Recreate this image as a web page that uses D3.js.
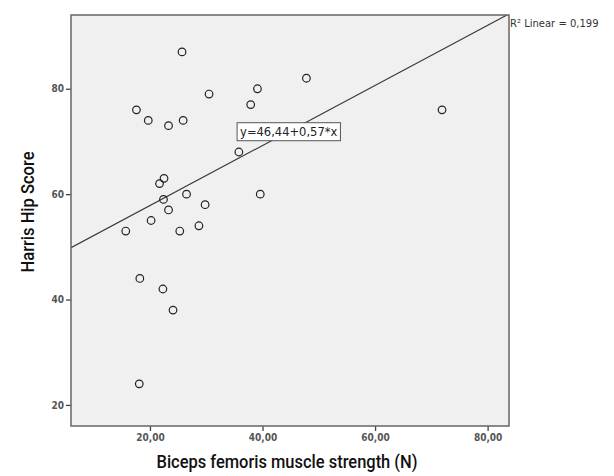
<!DOCTYPE html>
<html>
<head>
<meta charset="utf-8">
<script src="https://cdn.jsdelivr.net/npm/d3@7"></script>
<style>
  body { margin: 0; background: #fff; }
  svg { display: block; }
</style>
</head>
<body>
<svg id="chart" width="614" height="476"></svg>
<script>
// biceps femoris strength (N) vs Harris Hip Score
const strength = [25.7, 17.6, 19.7, 23.3, 25.9, 30.5, 37.9, 39.1, 47.8, 35.8, 22.5, 21.7, 26.5,
  39.6, 22.4, 29.8, 23.3, 20.2, 28.7, 71.9, 15.7, 25.3, 18.2, 22.3, 24.1, 18.1];
const harris = [87, 76, 74, 73, 74, 79, 77, 80, 82, 68, 63, 62, 60,
  60, 59, 58, 57, 55, 54, 76, 53, 53, 44, 42, 38, 24];
const xTicks = [20, 40, 60, 80];
const yTicks = [20, 40, 60, 80];
const fit = { a: 46.44, b: 0.57 };
const fitLabel = "y=46,44+0,57*x";
const r2Label = "R² Linear = 0,199";

const svg = d3.select("#chart");
const plotL = 71, plotT = 15, plotR = 509, plotB = 426;

const x = d3.scaleLinear().domain([5.97, 83.8]).range([plotL, plotR]);
const y = d3.scaleLinear().domain([16, 94]).range([plotB, plotT]);

const comma = d => d3.format(".2f")(d).replace(".", ",");

svg.append("rect")
  .attr("x", plotL).attr("y", plotT)
  .attr("width", plotR - plotL).attr("height", plotB - plotT)
  .attr("fill", "#f0f0f0");

svg.append("clipPath").attr("id", "plot")
  .append("rect")
  .attr("x", plotL).attr("y", plotT)
  .attr("width", plotR - plotL).attr("height", plotB - plotT);

// fit line
const x0 = x.domain()[0], x1 = x.domain()[1];
svg.append("line")
  .attr("clip-path", "url(#plot)")
  .attr("x1", x(x0)).attr("y1", y(fit.a + fit.b * x0))
  .attr("x2", x(x1)).attr("y2", y(fit.a + fit.b * x1))
  .attr("stroke", "#333")
  .attr("stroke-width", 1.1);

// points
svg.append("g")
  .selectAll("circle")
  .data(strength)
  .join("circle")
  .attr("cx", d => x(d))
  .attr("cy", (d, i) => y(harris[i]))
  .attr("r", 3.8)
  .attr("fill", "none")
  .attr("stroke", "#222")
  .attr("stroke-width", 1.2);

// axes
const xAxis = svg.append("g")
  .attr("transform", `translate(0,${plotB})`)
  .call(d3.axisBottom(x).tickValues(xTicks).tickFormat(comma).tickSize(5).tickPadding(3));
const yAxis = svg.append("g")
  .attr("transform", `translate(${plotL},0)`)
  .call(d3.axisLeft(y).tickValues(yTicks).tickFormat(d3.format("d")).tickSize(5).tickPadding(2));

[xAxis, yAxis].forEach(g => {
  g.select(".domain").remove();
  g.selectAll("line").attr("stroke", "#444").attr("stroke-width", 1.3);
  g.selectAll("text")
    .attr("fill", "#555")
    .style("font-family", "'DejaVu Sans Condensed', 'DejaVu Sans', sans-serif")
    .style("font-weight", "bold")
    .style("font-size", "10px");
});

// frame
svg.append("rect")
  .attr("x", plotL).attr("y", plotT)
  .attr("width", plotR - plotL).attr("height", plotB - plotT)
  .attr("fill", "none")
  .attr("stroke", "#666")
  .attr("stroke-width", 1.5);

// equation box
const eqX = 44.65, eqY = 71.85;
const eq = svg.append("g").attr("transform", `translate(${x(eqX)},${y(eqY)})`);
const eqText = eq.append("text")
  .attr("x", 0).attr("y", 0)
  .attr("text-anchor", "middle")
  .attr("dy", "0.35em")
  .attr("fill", "#222")
  .style("font-family", "'DejaVu Sans', sans-serif")
  .style("font-size", "11.5px")
  .text(fitLabel);
const bb = eqText.node().getBBox();
eq.insert("rect", "text")
  .attr("x", bb.x - 3).attr("y", -9)
  .attr("width", bb.width + 6).attr("height", 18)
  .attr("fill", "#fff")
  .attr("stroke", "#555")
  .attr("stroke-width", 1);

svg.append("text")
  .attr("x", plotR + 1).attr("y", 27)
  .attr("fill", "#333")
  .style("font-family", "'DejaVu Sans', sans-serif")
  .style("font-size", "10px")
  .text(r2Label);

// axis titles
svg.append("text")
  .attr("x", (plotL + plotR) / 2 - 3).attr("y", 468)
  .attr("text-anchor", "middle")
  .attr("fill", "#111")
  .attr("textLength", 261)
  .attr("lengthAdjust", "spacingAndGlyphs")
  .style("font-family", "Roboto, sans-serif")
  .style("font-weight", "500")
  .style("font-size", "19px")
  .text("Biceps femoris muscle strength (N)");

svg.append("text")
  .attr("transform", `translate(34,212) rotate(-90)`)
  .attr("text-anchor", "middle")
  .attr("fill", "#111")
  .attr("textLength", 121)
  .attr("lengthAdjust", "spacingAndGlyphs")
  .style("font-family", "Roboto, sans-serif")
  .style("font-weight", "500")
  .style("font-size", "19px")
  .text("Harris Hip Score");
</script>
</body>
</html>
